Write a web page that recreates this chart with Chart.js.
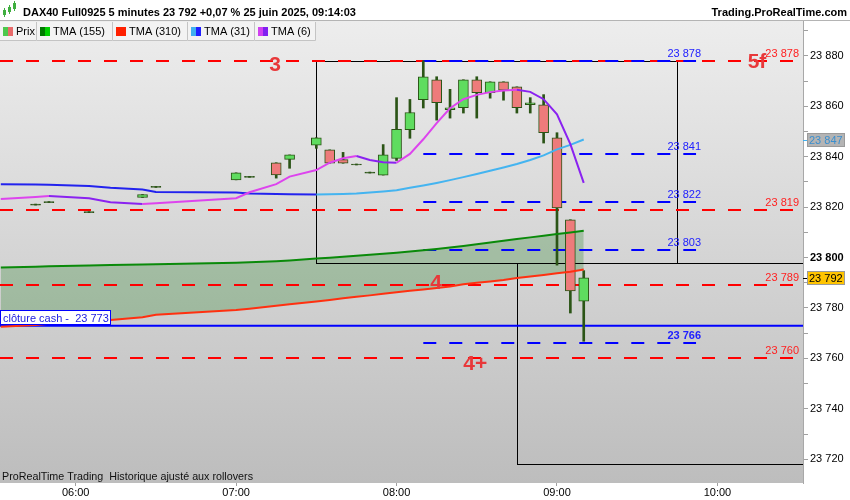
<!DOCTYPE html>
<html>
<head>
<meta charset="utf-8">
<title>DAX40 Full0925 5 minutes</title>
<script src="https://cdn.jsdelivr.net/npm/chart.js@4.4.1/dist/chart.umd.min.js"></script>
<style>
  html, body { margin:0; padding:0; background:#fff; }
  #wrap { width:850px; height:500px; position:relative; }
</style>
</head>
<body>
<div id="wrap"><canvas id="c" width="850" height="500"></canvas></div>
<script>
// times are minutes after midnight, one candle every 5 minutes
var candleTimes = [345,350,365,385,390,420,425,435,440,450,455,460,465,470,475,480,485,490,495,500,505,510,515,520,525,530,535,540,545,550];
var opens  = [23821.2,23822.2,23818.2,23823.8,23828.2,23830.8,23832.2,23837.6,23838.9,23844.6,23842.7,23838.8,23837.1,23833.9,23832.7,23839.3,23850.7,23862.6,23870.5,23858.6,23859.4,23870.5,23865.4,23869.7,23867.7,23860.6,23860.6,23847.5,23815.0,23782.7];
var closes = [23820.8,23821.8,23817.8,23825.0,23827.8,23833.6,23831.8,23832.8,23840.7,23847.5,23837.4,23837.4,23836.7,23833.5,23840.7,23850.8,23857.5,23871.7,23861.4,23859.4,23870.5,23865.4,23869.7,23866.4,23859.4,23861.4,23849.5,23819.7,23786.8,23792.0];
var highs  = [23821.2,23822.2,23818.2,23825.0,23828.2,23833.6,23832.2,23837.6,23840.7,23847.5,23842.7,23841.7,23837.1,23833.9,23844.8,23863.4,23862.7,23878.0,23871.7,23866.7,23870.5,23871.7,23869.7,23869.7,23867.7,23863.4,23864.6,23849.5,23815.0,23794.8];
var lows   = [23820.8,23821.8,23817.8,23823.8,23827.8,23830.8,23831.8,23831.5,23835.4,23843.3,23837.4,23837.4,23836.7,23833.5,23832.7,23838.5,23847.3,23859.3,23854.5,23855.3,23857.3,23855.3,23863.2,23862.4,23857.3,23857.3,23845.4,23797.0,23778.0,23766.8];

var maTimes = [332,345,350,365,373,385,390,420,425,435,440,450,455,460,465,470,475,480,485,490,495,500,505,510,515,520,525,530,535,540,545,550];
var tma155 = [23796.1,23796.4,23796.5,23796.8,23797.0,23797.2,23797.3,23797.9,23798.1,23798.5,23798.8,23799.6,23799.9,23800.3,23800.7,23801.1,23801.5,23801.9,23802.4,23802.9,23803.4,23804.0,23804.6,23805.3,23806.0,23806.7,23807.4,23808.0,23808.6,23809.3,23809.9,23810.6];
var tma310 = [23772.6,23773.3,23773.7,23774.6,23775.2,23776.3,23777.3,23779.2,23779.7,23780.9,23781.5,23782.6,23783.2,23783.9,23784.5,23785.0,23785.6,23786.2,23786.8,23787.3,23787.9,23788.5,23789.4,23790.0,23790.5,23791.1,23791.9,23792.5,23793.1,23793.8,23794.4,23795.3];
var tma31  = [23829.1,23829.0,23828.9,23828.4,23827.7,23827.0,23826.0,23825.8,23825.4,23825.2,23825.1,23825.0,23825.1,23825.2,23825.4,23825.8,23826.2,23826.7,23827.7,23828.6,23829.6,23830.7,23831.9,23833.1,23834.4,23835.7,23837.1,23838.7,23840.5,23842.9,23844.7,23846.8];
var tma6   = [23823.2,23824.0,23824.4,23823.5,23821.9,23821.2,23821.5,23823.5,23825.9,23829.1,23832.1,23834.7,23837.6,23839.4,23840.3,23838.7,23837.8,23837.6,23841.1,23846.9,23853.3,23859.2,23862.8,23864.5,23865.6,23866.2,23866.5,23865.7,23862.8,23856.8,23845.0,23829.6];

var redLevels  = [23878, 23819, 23789, 23760];
var blueLevels = [23878, 23841, 23822, 23803, 23766];
var blueFrom = 490, blueTo = 592;
var clotureCash = 23773;
// boxes: [time from, time to, price low, price high]
var boxes = [[450, 585, 23797.7, 23878], [525, 640, 23718, 23797.7]];
var marks = [["3", 434.6, 23876.3], ["5f", 614.8, 23877.5], ["4", 494.8, 23789.9], ["4+", 509.4, 23757.8]];
var timeTicks = [360, 420, 480, 540, 600];
var priceTicks = [23720,23730,23740,23750,23760,23770,23780,23790,23800,23810,23820,23830,23840,23850,23860,23870,23880,23890];
var lastPrice = 23792;

var FONT = "'Liberation Sans', Arial, sans-serif";
Chart.defaults.font.family = FONT;

function fmtPrice(v) { var s = String(Math.round(v)); return s.slice(0, 2) + ' ' + s.slice(2); }
function pad(n) { return (n < 10 ? '0' : '') + n; }
function fmtTime(t) { return pad(Math.floor(t / 60)) + ':' + pad(t % 60); }
function pts(ts, vs) { return ts.map(function (t, i) { return {x: t, y: vs[i]}; }); }
function upDown(up, down) {
  return function (c) { return c.p1.parsed.y >= c.p0.parsed.y ? up : down; };
}
var WICK = '#2b5416';
function bodyColor(c) {
  var d = closes[c.dataIndex] - opens[c.dataIndex];
  if (Math.abs(d) < 0.6) return WICK;
  return d > 0 ? '#5fdc5f' : '#ee7b7b';
}

var decor = {
  id: 'decor',
  beforeDraw: function (chart) {
    var ctx = chart.ctx, a = chart.chartArea;
    ctx.save();
    ctx.fillStyle = '#fff';
    ctx.fillRect(0, 0, chart.width, chart.height);
    var g = ctx.createLinearGradient(0, a.top, 0, a.bottom);
    g.addColorStop(0, '#ededed');
    g.addColorStop(1, '#bdbdbd');
    ctx.fillStyle = g;
    ctx.fillRect(a.left, a.top, a.right - a.left, a.bottom - a.top);
    ctx.restore();
  },
  beforeDatasetsDraw: function (chart) {
    var ctx = chart.ctx, a = chart.chartArea;
    var xs = chart.scales.x, ys = chart.scales.y;
    ctx.save();
    ctx.beginPath(); ctx.rect(a.left, a.top, a.right - a.left, a.bottom - a.top); ctx.clip();
    // boxes
    ctx.strokeStyle = '#000'; ctx.lineWidth = 1;
    boxes.forEach(function (b) {
      var x0 = Math.round(xs.getPixelForValue(b[0])) + 0.5, x1 = Math.round(xs.getPixelForValue(b[1])) + 0.5;
      var y0 = Math.round(ys.getPixelForValue(b[3])) + 0.5, y1 = Math.round(ys.getPixelForValue(b[2])) + 0.5;
      ctx.strokeRect(x0, y0, x1 - x0, y1 - y0);
    });
    // clôture cash line
    var yc = ys.getPixelForValue(clotureCash);
    ctx.strokeStyle = '#0000ff'; ctx.lineWidth = 2;
    ctx.beginPath(); ctx.moveTo(a.left, yc); ctx.lineTo(a.right, yc); ctx.stroke();
    // dashed levels
    ctx.setLineDash([13, 13]);
    ctx.strokeStyle = '#ff0000'; ctx.lineWidth = 2;
    redLevels.forEach(function (v) {
      var y = Math.round(ys.getPixelForValue(v));
      ctx.beginPath(); ctx.moveTo(a.left, y); ctx.lineTo(a.right, y); ctx.stroke();
    });
    ctx.strokeStyle = '#0000ff';
    blueLevels.forEach(function (v) {
      var y = Math.round(ys.getPixelForValue(v));
      ctx.beginPath(); ctx.moveTo(xs.getPixelForValue(blueFrom), y); ctx.lineTo(xs.getPixelForValue(blueTo), y); ctx.stroke();
    });
    ctx.setLineDash([]);
    // level labels
    ctx.font = '11px ' + FONT;
    ctx.textAlign = 'right'; ctx.textBaseline = 'alphabetic';
    ctx.fillStyle = '#ff2020';
    redLevels.forEach(function (v) {
      ctx.fillText(fmtPrice(v), 799, Math.round(ys.getPixelForValue(v)) - 4);
    });
    ctx.fillStyle = '#2020ff';
    blueLevels.forEach(function (v) {
      ctx.font = (v === 23766 ? 'bold ' : '') + '11px ' + FONT;
      ctx.fillText(fmtPrice(v), xs.getPixelForValue(blueTo) + 5, Math.round(ys.getPixelForValue(v)) - 4);
    });
    ctx.restore();
  },
  afterDatasetsDraw: function (chart) {
    var ctx = chart.ctx, a = chart.chartArea;
    var xs = chart.scales.x, ys = chart.scales.y;
    ctx.save();
    // red wave marks
    ctx.font = 'bold 21px ' + FONT;
    ctx.fillStyle = '#e8383a';
    ctx.textAlign = 'center'; ctx.textBaseline = 'middle';
    marks.forEach(function (m) {
      ctx.fillText(m[0], xs.getPixelForValue(m[1]), ys.getPixelForValue(m[2]));
    });
    // clôture cash box
    var yc = Math.round(ys.getPixelForValue(clotureCash));
    ctx.fillStyle = '#fff'; ctx.fillRect(0, yc - 15, 111, 14);
    ctx.strokeStyle = '#0000ff'; ctx.lineWidth = 1;
    ctx.strokeRect(0.5, yc - 15.5, 110, 14);
    ctx.fillStyle = '#2020e0'; ctx.font = '11px ' + FONT;
    ctx.textAlign = 'left'; ctx.textBaseline = 'alphabetic';
    ctx.fillText('clôture cash -  ' + fmtPrice(clotureCash), 3, yc - 4);
    // bottom note
    ctx.fillStyle = '#111'; ctx.font = '11px ' + FONT;
    ctx.fillText('ProRealTime Trading  Historique ajusté aux rollovers', 2, a.bottom - 3, 251);
    ctx.restore();
  },
  afterDraw: function (chart) {
    var ctx = chart.ctx, a = chart.chartArea;
    var ys = chart.scales.y;
    ctx.save();
    // header
    ctx.fillStyle = '#fff'; ctx.fillRect(0, 0, chart.width, a.top);
    ctx.strokeStyle = '#b4b4b4'; ctx.lineWidth = 1;
    ctx.beginPath(); ctx.moveTo(0, a.top - 0.5); ctx.lineTo(chart.width, a.top - 0.5); ctx.stroke();
    // candle icon
    ctx.fillStyle = '#3fae3f';
    [[4, 10, 5], [9, 7, 5], [14, 3, 6]].forEach(function (c) {
      ctx.fillRect(c[0] - 1, c[1], 3, c[2]);
      ctx.fillRect(c[0], c[1] - 2, 1, c[2] + 4);
    });
    ctx.fillStyle = '#000'; ctx.font = 'bold 11px ' + FONT;
    ctx.textAlign = 'left'; ctx.textBaseline = 'alphabetic';
    ctx.fillText('DAX40 Full0925 5 minutes 23 792 +0,07 % 25 juin 2025, 09:14:03', 23, 16);
    ctx.textAlign = 'right';
    ctx.fillText('Trading.ProRealTime.com', 847, 16);
    // legend tabs
    var tabs = [
      [0, 37, '#4cc84c', '#e86a6a', 'Prix'],
      [37, 113, '#007a00', '#00d000', 'TMA (155)'],
      [113, 188, '#ff2000', '#ff2000', 'TMA (310)'],
      [188, 255, '#40b0f0', '#2020ff', 'TMA (31)'],
      [255, 316, '#d040f0', '#8020f0', 'TMA (6)']
    ];
    ctx.font = '11px ' + FONT; ctx.textAlign = 'left';
    tabs.forEach(function (t) {
      ctx.fillStyle = '#f3f3f3'; ctx.fillRect(t[0], 22, t[1] - t[0], 18);
      ctx.strokeStyle = '#c4c4c4';
      ctx.beginPath(); ctx.moveTo(t[1] - 0.5, 22); ctx.lineTo(t[1] - 0.5, 40.5); ctx.lineTo(t[0], 40.5); ctx.stroke();
      ctx.fillStyle = t[2]; ctx.fillRect(t[0] + 3, 27, 5, 9);
      ctx.fillStyle = t[3]; ctx.fillRect(t[0] + 8, 27, 5, 9);
      ctx.fillStyle = '#000';
      ctx.fillText(t[4], t[0] + 16, 35);
    });
    // price badges on the axis
    var badges = [[tma31[tma31.length - 1], '#b4b4b4', '#3a8fcf', '#40b0f0'], [lastPrice, '#ffc400', '#000', '#000']];
    badges.forEach(function (b) {
      var y = Math.round(ys.getPixelForValue(b[0]));
      ctx.fillStyle = b[3]; ctx.fillRect(a.right, y, 4, 1);
      ctx.fillStyle = b[1]; ctx.fillRect(807, y - 7, 38, 14);
      ctx.strokeStyle = '#9a9a9a'; ctx.strokeRect(807.5, y - 6.5, 37, 13);
      ctx.fillStyle = b[2]; ctx.font = '11px ' + FONT;
      ctx.textAlign = 'left'; ctx.textBaseline = 'middle';
      ctx.fillText(fmtPrice(b[0]), 809, y + 1);
    });
    ctx.restore();
  }
};

var chart = new Chart(document.getElementById('c').getContext('2d'), {
  type: 'line',
  data: {
    datasets: [
      { type: 'bar', label: 'wicks', data: candleTimes.map(function (t, i) { return {x: t, y: [lows[i], highs[i]]}; }),
        backgroundColor: WICK, borderWidth: 0, barThickness: 2, grouped: false, order: 6 },
      { type: 'bar', label: 'Prix', data: candleTimes.map(function (t, i) { return {x: t, y: [opens[i], closes[i]]}; }),
        backgroundColor: bodyColor, borderColor: WICK, borderWidth: 1, borderSkipped: false,
        barThickness: 10, grouped: false, order: 5 },
      { label: 'TMA (310)', data: pts(maTimes, tma310), borderColor: '#ff3010', borderWidth: 2,
        pointRadius: 0, fill: false, order: 4 },
      { label: 'TMA (155)', data: pts(maTimes, tma155), borderColor: '#0a8a0a', borderWidth: 2,
        pointRadius: 0, fill: {target: '-1', above: 'rgba(60,140,60,0.32)', below: 'rgba(60,140,60,0.32)'}, order: 3 },
      { label: 'TMA (31)', data: pts(maTimes, tma31), borderWidth: 2, pointRadius: 0, fill: false,
        borderColor: '#40b4f0', segment: { borderColor: upDown('#44b4f0', '#2222ee') }, order: 2 },
      { label: 'TMA (6)', data: pts(maTimes, tma6), borderWidth: 2, pointRadius: 0, fill: false,
        borderColor: '#dd44ee', segment: { borderColor: upDown('#dd44ee', '#8a22f0') }, order: 1 }
    ]
  },
  options: {
    responsive: false,
    animation: false,
    events: [],
    layout: { padding: { top: 21, left: 0, right: 0, bottom: 0 } },
    plugins: {
      legend: { display: false },
      tooltip: { enabled: false },
      filler: { drawTime: 'beforeDatasetsDraw' }
    },
    scales: {
      x: {
        type: 'linear', min: 331.7, max: 632, offset: false,
        afterBuildTicks: function (s) { s.ticks = timeTicks.map(function (v) { return {value: v}; }); },
        afterFit: function (s) { s.height = 17; },
        grid: { drawOnChartArea: false, tickLength: 3, tickColor: '#a0a0a0', offset: false },
        border: { display: false },
        ticks: { padding: 0, color: '#000', font: { size: 11 }, maxRotation: 0, autoSkip: false,
          callback: function (v) { return fmtTime(v); } }
      },
      y: {
        type: 'linear', position: 'right', min: 23710.6, max: 23893.8,
        afterBuildTicks: function (s) { s.ticks = priceTicks.map(function (v) { return {value: v}; }); },
        afterFit: function (s) { s.width = 47; },
        grid: { drawOnChartArea: false, tickLength: 5, tickColor: '#a0a0a0' },
        border: { display: true, color: '#a8a8a8' },
        ticks: { padding: 2, color: '#000', autoSkip: false,
          font: function (c) { return { size: 11, weight: (c.tick && c.tick.value === 23800) ? 'bold' : 'normal' }; },
          callback: function (v) { return v % 20 === 0 ? fmtPrice(v) : ''; } }
      }
    }
  },
  plugins: [decor]
});
</script>
</body>
</html>
